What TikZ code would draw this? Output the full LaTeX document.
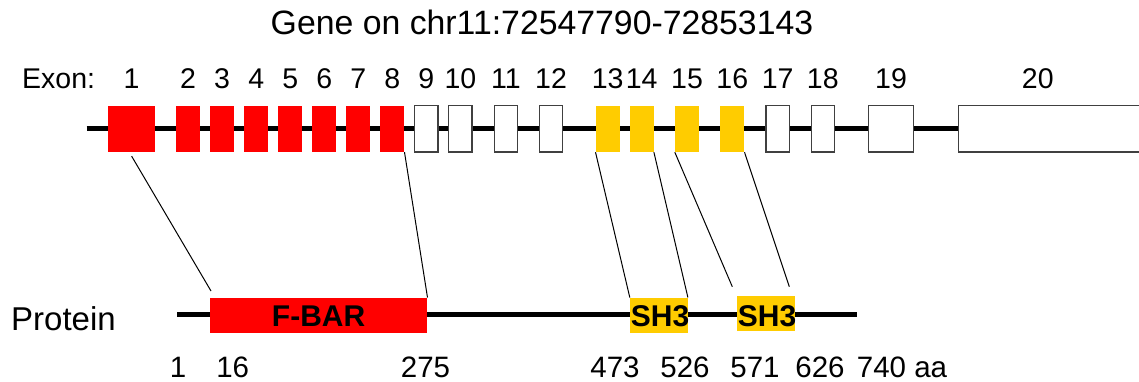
\documentclass[tikz,border=0pt]{standalone}
\usepackage{fontspec}
\setmainfont{Liberation Sans}
\definecolor{exred}{HTML}{FF0000}
\definecolor{exyel}{HTML}{FFCC00}
\definecolor{exgray}{HTML}{404040}
\newcommand\exonnode[4]{\node[#1, minimum width=#3pt] (#2) at (#4,128.85) {};}
\begin{document}
\begin{tikzpicture}[x=1pt,y=-1pt,
  lbl/.style={font=\fontsize{33}{40}\selectfont, inner sep=0, anchor=base},
  exlbl/.style={font=\fontsize{28.5}{34}\selectfont, inner sep=0, anchor=base},
  numlbl/.style={font=\fontsize{29.5}{35}\selectfont, inner sep=0, anchor=base},
  dom/.style={font=\bfseries\fontsize{30}{36}\selectfont, inner sep=0},
  exbox/.style={rectangle, inner sep=0, minimum height=46.3pt},
  redex/.style={exbox, fill=exred},
  yelex/.style={exbox, fill=exyel},
  whiteex/.style={exbox, fill=white, draw=exgray, line width=1.2pt},
  dombox/.style={rectangle, inner sep=0, minimum height=35pt},
  backbone/.style={line width=4.5pt},
  conn/.style={line width=1pt},
]
\useasboundingbox (0,0) rectangle (1139,381);
% title
\node[lbl, font=\fontsize{33.8}{40}\selectfont] (title) at (542,34) {Gene on chr11:72547790-72853143};
% exon labels
\node[exlbl, anchor=base west] (exonlbl) at (22,88) {Exon:};
\foreach \n/\x in {1/131.65,2/188.15,3/222.15,4/256.3,5/290.3,6/324.3,7/358.3,8/392.3,9/426.35,10/460.35,11/505.8,12/551,13/607.7,14/641.7,15/687,16/732.3,17/777.65,18/822.8,19/891,20/1037.8}
  \node[exlbl] (lab\n) at (\x,88) {\n};
% gene backbone
\coordinate (g0) at (86.7,128.7);
\coordinate (g1) at (958.7,128.7);
\draw[backbone] (g0) -- (g1);
% exons
\exonnode{redex}{e1}{46.7}{131.65}
\exonnode{redex}{e2}{23.7}{188.15}
\exonnode{redex}{e3}{23.7}{222.15}
\exonnode{redex}{e4}{24}{256.3}
\exonnode{redex}{e5}{24}{290.3}
\exonnode{redex}{e6}{24}{324.3}
\exonnode{redex}{e7}{24}{358.3}
\exonnode{redex}{e8}{24}{392.3}
\exonnode{whiteex}{e9}{23.3}{426.35}
\exonnode{whiteex}{e10}{23.3}{460.35}
\exonnode{whiteex}{e11}{23}{505.8}
\exonnode{whiteex}{e12}{23.4}{551}
\exonnode{yelex}{e13}{24}{607.7}
\exonnode{yelex}{e14}{24}{641.7}
\exonnode{yelex}{e15}{24}{687}
\exonnode{yelex}{e16}{24}{732.3}
\exonnode{whiteex}{e17}{23.3}{777.65}
\exonnode{whiteex}{e18}{23}{822.8}
\exonnode{whiteex}{e19}{45.4}{891}
\exonnode{whiteex}{e20}{186.3}{1051.85}
% protein
\node[lbl, anchor=base west] (protlbl) at (11,330) {Protein};
\coordinate (p0) at (177.3,314.3);
\coordinate (p1) at (856.7,314.3);
\draw[backbone] (p0) -- (p1);
\node[dombox, fill=exred, minimum width=217.3pt] (fbar) at (318.65,315.2) {};
\node[dombox, fill=exyel, minimum width=57.7pt] (sh3a) at (658.85,315.2) {};
\node[dombox, fill=exyel, minimum width=58pt] (sh3b) at (766,313.2) {};
\node[dom] (fbartxt) at (318.65,316.5) {F-BAR};
\node[dom] (sh3atxt) at (660,316.5) {SH3};
\node[dom] (sh3btxt) at (767,316) {SH3};
% connectors
\coordinate (c1) at (211,291);
\coordinate (c15) at (732.3,286.7);
\coordinate (c16) at (789.3,286.7);
\draw[conn] ([yshift=-4pt]e1.south) -- (c1);
\draw[conn] (e8.south east) -- (fbar.north east);
\draw[conn] (e13.south west) -- (sh3a.north west);
\draw[conn] (e14.south east) -- (sh3a.north east);
\draw[conn] (e15.south west) -- (c15);
\draw[conn] (e16.south east) -- (c16);
% residue numbers
\node[numlbl] (n1) at (178,377) {1};
\node[numlbl] (n16) at (232.7,377) {16};
\node[numlbl] (n275) at (425.5,377) {275};
\node[numlbl] (n473) at (615,377) {473};
\node[numlbl] (n526) at (685,377) {526};
\node[numlbl] (n571) at (755,377) {571};
\node[numlbl] (n626) at (820,377) {626};
\node[numlbl, anchor=base west] (n740) at (856.7,377) {740 aa};
\end{tikzpicture}
\end{document}
